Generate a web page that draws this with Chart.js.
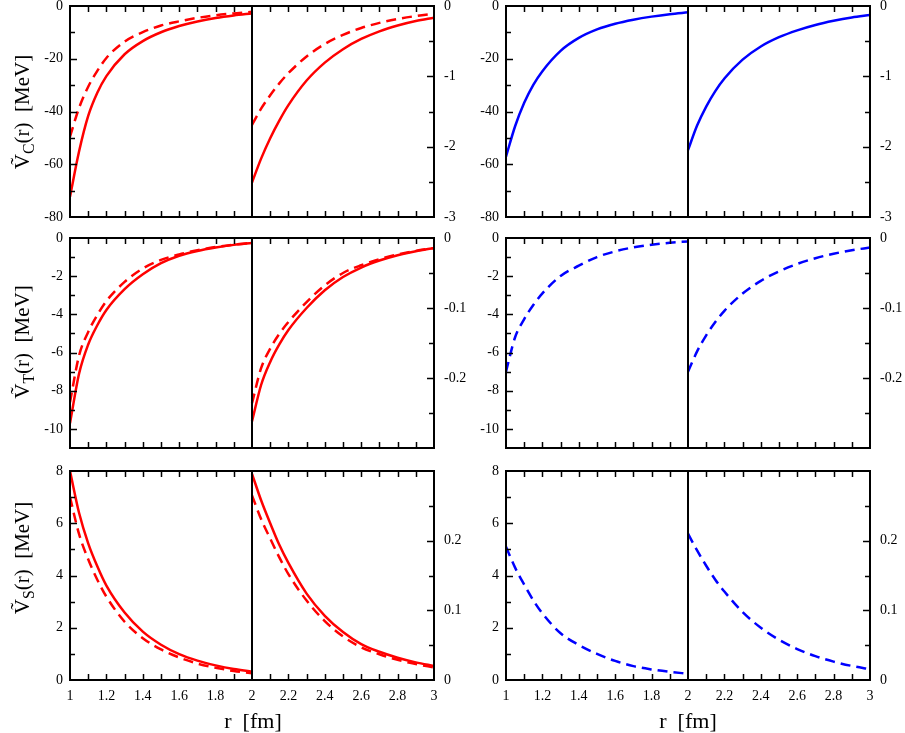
<!DOCTYPE html>
<html>
<head>
<meta charset="utf-8">
<script src="https://cdn.jsdelivr.net/npm/chart.js@4.4.0/dist/chart.umd.min.js"></script>
<style>
  body { margin: 0; background: #fff; width: 905px; height: 733px; overflow: hidden; position: relative; }
  canvas { position: absolute; }
  .lbl { position: absolute; font-family: "Liberation Serif", "Times New Roman", serif; color: #000; white-space: nowrap; line-height: 1; }
  .ytitle { font-size: 21px; transform: translate(-50%, -50%) rotate(-90deg); }
  .xtitle { font-size: 22px; transform: translate(-50%, -50%); }
  .ytitle sub { font-size: 0.75em; }
</style>
</head>
<body>

<canvas id="c0" width="474" height="235" style="left:0px;top:-6px"></canvas>
<canvas id="c1" width="459" height="235" style="left:446px;top:-6px"></canvas>
<canvas id="c2" width="474" height="234" style="left:0px;top:226px"></canvas>
<canvas id="c3" width="459" height="234" style="left:446px;top:226px"></canvas>
<canvas id="c4" width="474" height="253" style="left:0px;top:459px"></canvas>
<canvas id="c5" width="459" height="253" style="left:446px;top:459px"></canvas>

<div class="lbl ytitle" style="left:24px;top:112px">V&#771;<sub>C</sub>(r)&nbsp;&nbsp;[MeV]</div>
<div class="lbl ytitle" style="left:24px;top:342px">V&#771;<sub>T</sub>(r)&nbsp;&nbsp;[MeV]</div>
<div class="lbl ytitle" style="left:24px;top:558px">V&#771;<sub>S</sub>(r)&nbsp;&nbsp;[MeV]</div>
<div class="lbl xtitle" style="left:253px;top:721px">r&nbsp;&nbsp;[fm]</div>
<div class="lbl xtitle" style="left:688px;top:721px">r&nbsp;&nbsp;[fm]</div>

<script>
// r grid [fm] for the two halves of each panel
var rLeft  = [1.0, 1.05, 1.1, 1.15, 1.2, 1.3, 1.4, 1.5, 1.6, 1.7, 1.8, 1.9, 2.0];
var rRight = [2.0, 2.05, 2.1, 2.15, 2.2, 2.3, 2.4, 2.5, 2.6, 2.7, 2.8, 2.9, 3.0];

// V_C (top row)
var vcRedSolidL = [-72.3, -55.1, -41.7, -32.9, -26.6, -18.3, -13.3, -9.95, -7.6, -5.86, -4.56, -3.59, -2.83];
var vcRedDashL  = [-49.5, -38.6, -30.6, -24.6, -19.7, -13.5, -9.9, -7.4, -5.8, -4.5, -3.5, -2.8, -2.2];
var vcRedSolidR = [-2.51, -2.17, -1.88, -1.63, -1.41, -1.06, -0.805, -0.614, -0.469, -0.36, -0.278, -0.214, -0.166];
var vcRedDashR  = [-1.69, -1.46, -1.27, -1.10, -0.955, -0.718, -0.54, -0.41, -0.313, -0.24, -0.185, -0.143, -0.11];
var vcBlueL     = [-57.1, -45.6, -36.7, -29.9, -24.7, -17.0, -12.1, -8.88, -6.72, -5.2, -4.03, -3.1, -2.4];
var vcBlueR     = [-2.05, -1.70, -1.43, -1.21, -1.03, -0.763, -0.576, -0.444, -0.346, -0.269, -0.21, -0.163, -0.128];

// V_T (middle row)
var vtRedSolidL = [-9.7, -7.1, -5.58, -4.57, -3.77, -2.68, -1.90, -1.32, -0.93, -0.68, -0.50, -0.36, -0.26];
var vtRedDashL  = [-8.6, -6.15, -4.92, -4.03, -3.30, -2.30, -1.60, -1.15, -0.86, -0.64, -0.47, -0.35, -0.25];
var vtRedSolidR = [-0.262, -0.21, -0.177, -0.152, -0.1315, -0.1, -0.0747, -0.0558, -0.0422, -0.0322, -0.0246, -0.0188, -0.0143];
var vtRedDashR  = [-0.236, -0.186, -0.158, -0.137, -0.12, -0.0915, -0.0676, -0.05, -0.0389, -0.0303, -0.0236, -0.0184, -0.0143];
var vtBlueL     = [-7.0, -5.2, -4.25, -3.51, -2.90, -1.99, -1.45, -1.0, -0.70, -0.49, -0.35, -0.25, -0.18];
var vtBlueR     = [-0.191, -0.162, -0.139, -0.12, -0.104, -0.0794, -0.0612, -0.0477, -0.0371, -0.0289, -0.0225, -0.0175, -0.0136];

// V_S (bottom row)
var vsRedSolidL = [8.0, 6.39, 5.23, 4.35, 3.61, 2.58, 1.85, 1.35, 0.99, 0.74, 0.56, 0.42, 0.32];
var vsRedDashL  = [7.0, 5.58, 4.62, 3.84, 3.19, 2.23, 1.60, 1.17, 0.86, 0.63, 0.47, 0.345, 0.255];
var vsRedSolidR = [0.296, 0.258, 0.225, 0.194, 0.168, 0.124, 0.0922, 0.0689, 0.0515, 0.0405, 0.032, 0.0253, 0.0201];
var vsRedDashR  = [0.265, 0.231, 0.203, 0.176, 0.152, 0.114, 0.0846, 0.0625, 0.047, 0.037, 0.029, 0.0229, 0.018];
var vsBlueL     = [5.1, 4.3, 3.65, 3.05, 2.55, 1.79, 1.34, 1.0, 0.73, 0.53, 0.405, 0.312, 0.24];
var vsBlueR     = [0.21, 0.186, 0.164, 0.144, 0.127, 0.0975, 0.075, 0.0577, 0.0444, 0.0342, 0.0264, 0.0202, 0.0155];

// tick labels
var rLabels   = [1, 1.2, 1.4, 1.6, 1.8, 2, 2.2, 2.4, 2.6, 2.8, 3];
var vcLabels  = [0, -20, -40, -60, -80];
var vcLabels2 = [0, -1, -2, -3];
var vtLabels  = [0, -2, -4, -6, -8, -10];
var vtLabels2 = [0, -0.1, -0.2];
var vsLabels  = [0, 2, 4, 6, 8];
var vsLabels2 = [0, 0.1, 0.2];

var RED = '#ff0000', BLUE = '#0000ff';
var FONT = 'Liberation Serif';

function fmt(v) {
    if (Math.abs(v) < 1e-9) return '0';
    if (Math.abs(v - Math.round(v)) < 1e-9) return String(Math.round(v));
    return v.toFixed(1);
}

function labelCb(list) {
    return function(v) {
        for (var i = 0; i < list.length; i++) {
            if (Math.abs(list[i] - v) < 1e-9) return fmt(v);
        }
        return '';
    };
}

function pts(rs, vs) {
    return rs.map(function(r, i) { return {x: r, y: vs[i]}; });
}

// keep the plot area fixed: no extra room for overhanging tick labels
function noOverhang(s) {
    s.paddingTop = 0; s.paddingBottom = 0;
    s.paddingLeft = 0; s.paddingRight = 0;
}

// frame, split line at r=2 and inward tick marks
var framePlugin = {
    id: 'frame',
    afterDatasetsDraw: function(chart) {
        var ctx = chart.ctx, a = chart.chartArea;
        var xs = chart.scales.x, ys = chart.scales.y, y1 = chart.scales.y1;
        var eps = 1e-9;
        ctx.save();
        ctx.strokeStyle = '#000';
        ctx.lineWidth = 1.5;
        ctx.beginPath();
        xs.ticks.forEach(function(t) {
            if (t.value <= xs.min + eps || t.value >= xs.max - eps || Math.abs(t.value - 2) < eps) return;
            var px = Math.round(xs.getPixelForValue(t.value)) + 0.5;
            ctx.moveTo(px, a.top); ctx.lineTo(px, a.top + 6);
            ctx.moveTo(px, a.bottom); ctx.lineTo(px, a.bottom - 6);
        });
        ys.ticks.forEach(function(t) {
            if (t.value <= ys.min + eps || t.value >= ys.max - eps) return;
            var py = Math.round(ys.getPixelForValue(t.value)) + 0.5;
            var len = t.label !== '' ? 7 : 5;
            ctx.moveTo(a.left, py); ctx.lineTo(a.left + len, py);
        });
        y1.ticks.forEach(function(t) {
            if (t.value <= y1.min + eps || t.value >= y1.max - eps) return;
            var py = Math.round(y1.getPixelForValue(t.value)) + 0.5;
            var len = t.label !== '' ? 7 : 5;
            ctx.moveTo(a.right, py); ctx.lineTo(a.right - len, py);
        });
        ctx.stroke();
        ctx.lineWidth = 2;
        ctx.strokeRect(a.left, a.top, a.right - a.left, a.bottom - a.top);
        var sx = xs.getPixelForValue(2);
        ctx.beginPath();
        ctx.moveTo(sx, a.top); ctx.lineTo(sx, a.bottom);
        ctx.stroke();
        ctx.restore();
    }
};

function makePanel(id, p) {
    var datasets = [];
    p.lines.forEach(function(l) {
        var common = {
            borderColor: l.color,
            borderWidth: 2.5,
            borderDash: l.dash ? [10, 6] : [],
            pointRadius: 0,
            cubicInterpolationMode: 'monotone',
            fill: false
        };
        datasets.push(Object.assign({data: pts(rLeft, l.left), yAxisID: 'y'}, common));
        datasets.push(Object.assign({data: pts(rRight, l.right), yAxisID: 'y1'}, common));
    });

    var tickFont = {family: FONT, size: 14};

    new Chart(document.getElementById(id), {
        type: 'line',
        data: {datasets: datasets},
        options: {
            responsive: false,
            animation: false,
            devicePixelRatio: 1,
            layout: {padding: {top: 12, bottom: p.bottom ? 2 : 12, left: 0, right: 0}},
            plugins: {legend: {display: false}, tooltip: {enabled: false}},
            scales: {
                x: {
                    type: 'linear', min: 1, max: 3,
                    grid: {display: false, drawTicks: false},
                    border: {display: false},
                    ticks: {
                        display: p.bottom, stepSize: 0.1, autoSkip: false, maxRotation: 0,
                        padding: 8, color: '#000', font: tickFont,
                        callback: labelCb(rLabels)
                    },
                    afterFit: function(s) { s.height = p.bottom ? 30 : 0; noOverhang(s); }
                },
                y: {
                    type: 'linear', position: 'left', min: p.yMin, max: p.yMax,
                    grid: {display: false, drawTicks: false},
                    border: {display: false},
                    ticks: {
                        stepSize: p.yStep, autoSkip: false, padding: 7,
                        color: '#000', font: tickFont, callback: labelCb(p.yLabels)
                    },
                    afterFit: function(s) { s.width = p.leftW; noOverhang(s); }
                },
                y1: {
                    type: 'linear', position: 'right', min: p.y1Min, max: p.y1Max,
                    grid: {display: false, drawTicks: false},
                    border: {display: false},
                    ticks: {
                        stepSize: p.y1Step, autoSkip: false, padding: 10,
                        color: '#000', font: tickFont, callback: labelCb(p.y1Labels)
                    },
                    afterFit: function(s) { s.width = p.rightW; noOverhang(s); }
                }
            }
        },
        plugins: [framePlugin]
    });
}

var leftCol  = {leftW: 70, rightW: 40};
var rightCol = {leftW: 60, rightW: 35};

var rowC = {yMin: -80, yMax: 0, yStep: 10, yLabels: vcLabels, y1Min: -3, y1Max: 0, y1Step: 0.5, y1Labels: vcLabels2, bottom: false};
var rowT = {yMin: -11, yMax: 0, yStep: 1, yLabels: vtLabels, y1Min: -0.3, y1Max: 0, y1Step: 0.05, y1Labels: vtLabels2, bottom: false};
var rowS = {yMin: 0, yMax: 8, yStep: 1, yLabels: vsLabels, y1Min: 0, y1Max: 0.3, y1Step: 0.05, y1Labels: vsLabels2, bottom: true};

makePanel('c0', Object.assign({}, rowC, leftCol, {lines: [
    {left: vcRedSolidL, right: vcRedSolidR, color: RED, dash: false},
    {left: vcRedDashL, right: vcRedDashR, color: RED, dash: true}
]}));
makePanel('c1', Object.assign({}, rowC, rightCol, {lines: [
    {left: vcBlueL, right: vcBlueR, color: BLUE, dash: false}
]}));
makePanel('c2', Object.assign({}, rowT, leftCol, {lines: [
    {left: vtRedSolidL, right: vtRedSolidR, color: RED, dash: false},
    {left: vtRedDashL, right: vtRedDashR, color: RED, dash: true}
]}));
makePanel('c3', Object.assign({}, rowT, rightCol, {lines: [
    {left: vtBlueL, right: vtBlueR, color: BLUE, dash: true}
]}));
makePanel('c4', Object.assign({}, rowS, leftCol, {lines: [
    {left: vsRedSolidL, right: vsRedSolidR, color: RED, dash: false},
    {left: vsRedDashL, right: vsRedDashR, color: RED, dash: true}
]}));
makePanel('c5', Object.assign({}, rowS, rightCol, {lines: [
    {left: vsBlueL, right: vsBlueR, color: BLUE, dash: true}
]}));
</script>
</body>
</html>
